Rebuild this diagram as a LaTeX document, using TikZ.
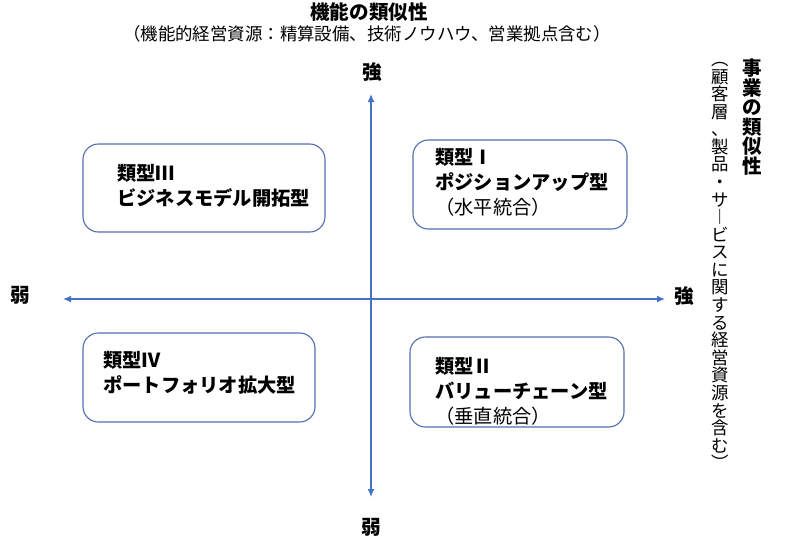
\documentclass[tikz,border=0pt]{standalone}
\usepackage{fontspec}
\setmainfont{Noto Sans CJK JP}
\usetikzlibrary{arrows.meta, positioning}
\definecolor{axisblue}{RGB}{68,114,196}
\definecolor{edgeblue}{RGB}{84,112,176}
\tikzset{
  quad/.style ={draw=edgeblue, line width=0.8pt, rounded corners=11pt, fill=white, inner sep=0pt},
  qtext/.style={anchor=west, align=left, inner sep=0pt, font=\fontsize{13.7}{17.8}\selectfont\bfseries},
  axis/.style ={{Latex[length=2mm,width=1.7mm]}-{Latex[length=2mm,width=1.7mm]}, draw=axisblue, line width=0.85pt},
  pole/.style ={font=\fontsize{14}{14}\selectfont\bfseries, inner sep=0pt},
  head/.style ={font=\fontsize{13.9}{13.9}\selectfont\bfseries, inner sep=0pt, align=center},
  note/.style ={font=\fontsize{12.4}{12.5}\selectfont, inner sep=0pt, align=center},
}

\begin{document}
\begin{tikzpicture}[x=0.025cm, y=-0.025cm]
  \useasboundingbox (0,0) rectangle (800,549);

  \node[head] (title) at (369,12) {機能の類似性};
  \node[note] (subtitle) at (367,34) {（機能的経営資源：精算設備、技術ノウハウ、営業拠点含む）};
  \node[head] (vtitle) at (752,117) {事\\業\\の\\類\\似\\性};
  \node[note] (vsubtitle) at (720,266) {︵\\顧\\客\\層\\、\\製\\品\\・\\サ\\︱\\ビ\\ス\\に\\関\\す\\る\\経\\営\\資\\源\\を\\含\\む\\︶};

  \coordinate (xlo) at (63,299);
  \coordinate (xhi) at (665,299);
  \coordinate (ylo) at (371,497);
  \coordinate (yhi) at (371,94);
  \draw[axis] (xlo) -- (xhi);
  \draw[axis] (ylo) -- (yhi);
  \node[pole] (ystrong) at (372,72) {強};
  \node[pole] (yweak) at (371,527) {弱};
  \node[pole] (xweak) at (20,295) {弱};
  \node[pole] (xstrong) at (684,296) {強};

  \node[quad, minimum width=6.05cm, minimum height=2.2cm] (type3) at (204,188) {};
  \node[quad, minimum width=5.35cm, minimum height=2.225cm] (type1) at (520,184.5) {};
  \node[quad, minimum width=5.8cm, minimum height=2.225cm] (type4) at (199,377.5) {};
  \node[quad, minimum width=5.35cm, minimum height=2.25cm] (type2) at (517,382) {};

  \node[qtext] (text3) at (117,185.5) {類型Ⅲ\\ビジネスモデル開拓型};
  \node[qtext] (text1) at (435,182) {類型Ⅰ\\ポジションアップ型\\\mdseries（水平統合）};
  \node[qtext] (text4) at (103,373) {類型Ⅳ\\ポートフォリオ拡大型};
  \node[qtext] (text2) at (435,391) {類型Ⅱ\\バリューチェーン型\\\mdseries（垂直統合）};
\end{tikzpicture}
\end{document}
